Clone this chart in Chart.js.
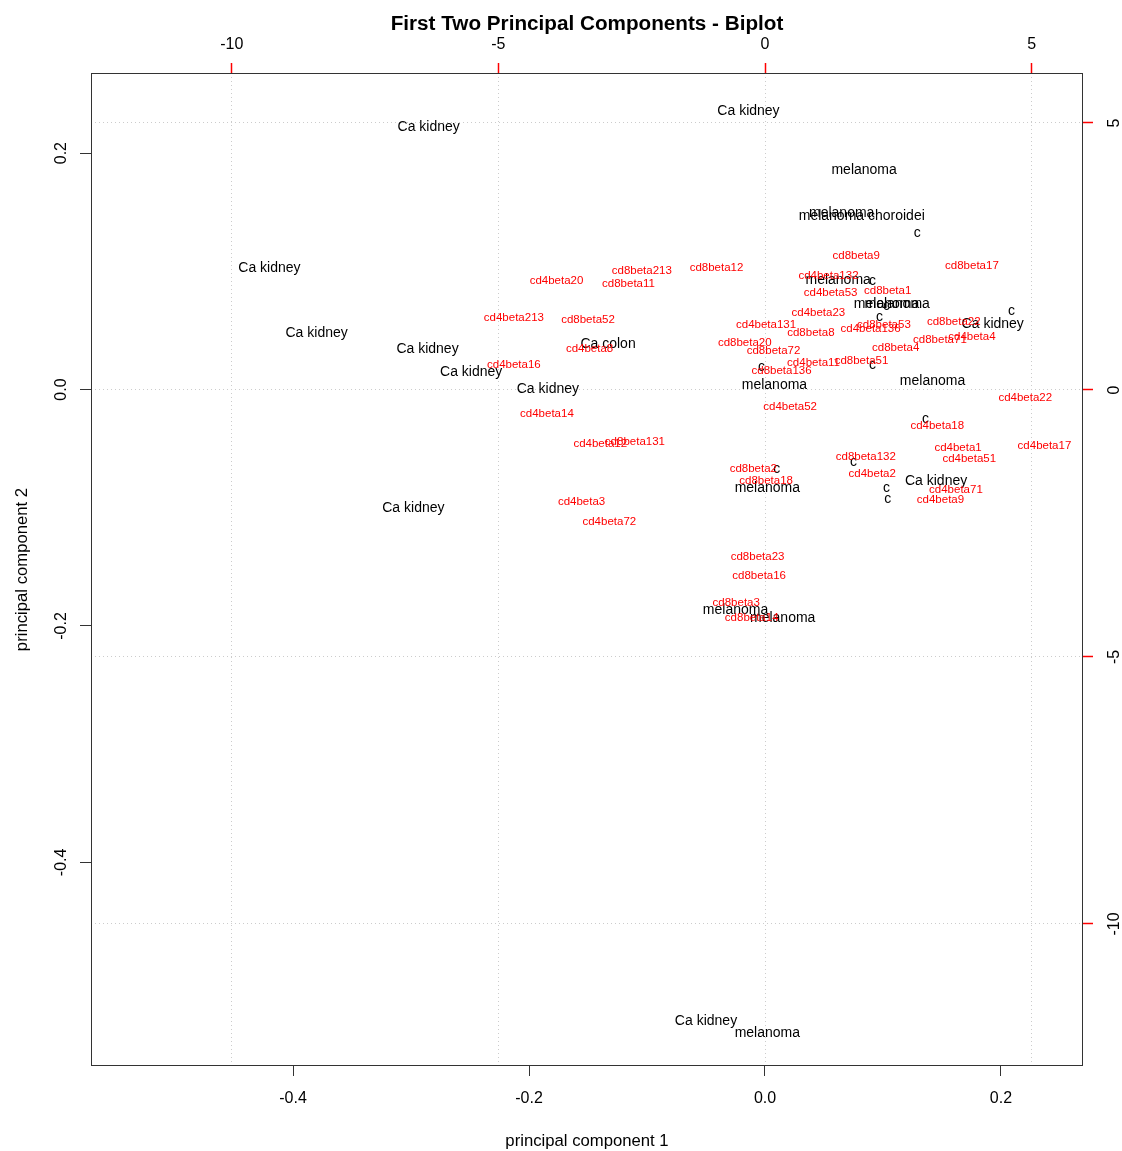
<!DOCTYPE html>
<html>
<head>
<meta charset="utf-8">
<title>First Two Principal Components - Biplot</title>
<script src="https://cdn.jsdelivr.net/npm/chart.js@4.4.1/dist/chart.umd.min.js"></script>
<style>
  html, body { margin: 0; padding: 0; background: #fff; }
  #chart { display: block; }
</style>
</head>
<body>
<canvas id="chart" width="1122" height="1151"></canvas>
<script>
// observations (black labels, bottom/left axes)
const obsNames = [
  "Ca kidney", "Ca kidney", "melanoma", "melanoma", "melanoma choroidei", "c",
  "melanoma", "c", "melanoma", "melanoma", "c", "c", "c", "Ca kidney", "c", "c",
  "melanoma", "melanoma", "Ca colon", "Ca kidney", "Ca kidney", "Ca kidney",
  "Ca kidney", "Ca kidney", "Ca kidney", "c", "c", "c", "melanoma", "Ca kidney",
  "c", "c", "melanoma", "melanoma", "Ca kidney", "melanoma"
];
const obsX = [
  -0.014, -0.285, 0.084, 0.065, 0.082, 0.129,
  0.062, 0.091, 0.103, 0.112, 0.103, 0.097, 0.209, 0.193, 0.091, -0.003,
  0.008, 0.142, -0.133, -0.420, -0.380, -0.286,
  -0.249, -0.184, -0.298, 0.136, 0.075, 0.010, 0.002, 0.145,
  0.103, 0.104, -0.025, 0.015, -0.050, 0.002
];
const obsY = [
  0.237, 0.224, 0.187, 0.151, 0.148, 0.134,
  0.094, 0.093, 0.074, 0.074, 0.072, 0.063, 0.068, 0.057, 0.022, 0.021,
  0.005, 0.009, 0.040, 0.104, 0.049, 0.036,
  0.016, 0.002, -0.099, -0.023, -0.060, -0.066, -0.082, -0.076,
  -0.082, -0.091, -0.185, -0.192, -0.533, -0.543
];

// variables (red labels, top/right axes)
const varNames = [
  "cd8beta213", "cd8beta12", "cd4beta20", "cd8beta11", "cd4beta213", "cd8beta52",
  "cd4beta8", "cd4beta16", "cd4beta14", "cd4beta12", "cd8beta131", "cd4beta131",
  "cd8beta20", "cd8beta72", "cd8beta9", "cd8beta17", "cd4beta132", "cd4beta53",
  "cd8beta1", "cd4beta23", "cd8beta53", "cd4beta136", "cd8beta8", "cd8beta22",
  "cd8beta71", "cd4beta4", "cd8beta4", "cd8beta51", "cd4beta11", "cd8beta136",
  "cd4beta22", "cd4beta52", "cd4beta18", "cd4beta1", "cd4beta17", "cd4beta51",
  "cd8beta132", "cd4beta2", "cd8beta2", "cd8beta18", "cd4beta71", "cd4beta9",
  "cd4beta3", "cd4beta72", "cd8beta23", "cd8beta16", "cd8beta3", "cd8beta14"
];
const varX = [
  -2.31, -0.91, -3.91, -2.56, -4.71, -3.32,
  -3.29, -4.71, -4.09, -3.09, -2.44, 0.02,
  -0.38, 0.16, 1.71, 3.88, 1.19, 1.23,
  2.30, 1.00, 2.23, 1.98, 0.86, 3.54,
  3.28, 3.88, 2.45, 1.81, 0.91, 0.31,
  4.88, 0.47, 3.23, 3.62, 5.24, 3.83,
  1.89, 2.01, -0.22, 0.02, 3.58, 3.29,
  -3.44, -2.92, -0.14, -0.11, -0.54, -0.25
];
const varY = [
  2.26, 2.32, 2.07, 2.01, 1.37, 1.35,
  0.80, 0.49, -0.42, -0.98, -0.94, 1.25,
  0.92, 0.76, 2.54, 2.35, 2.17, 1.85,
  1.89, 1.47, 1.25, 1.17, 1.09, 1.31,
  0.97, 1.02, 0.81, 0.58, 0.54, 0.39,
  -0.11, -0.28, -0.64, -1.06, -1.02, -1.27,
  -1.22, -1.54, -1.45, -1.67, -1.85, -2.03,
  -2.06, -2.45, -3.10, -3.46, -3.95, -4.23
];

const pc1Ticks = [-0.4, -0.2, 0.0, 0.2];
const pc2Ticks = [-0.4, -0.2, 0.0, 0.2];
const loadXTicks = [-10, -5, 0, 5];
const loadYTicks = [-10, -5, 0, 5];

const FONT = '"Liberation Sans", Arial, sans-serif';
const DY = 2; // canvas 'middle' sits a bit high compared with R

function fixTicks(values) {
  return scale => { scale.ticks = values.map(v => ({ value: v })); };
}

const labelPlugin = {
  id: 'biplotLabels',
  beforeDatasetsDraw(chart) {
    const ctx = chart.ctx;
    const a = chart.chartArea;
    ctx.save();
    ctx.strokeStyle = '#333';
    ctx.lineWidth = 1;
    ctx.strokeRect(a.left + 0.5, a.top + 0.5, a.right - a.left - 1, a.bottom - a.top - 1);
    ctx.restore();
  },
  afterDatasetsDraw(chart) {
    const ctx = chart.ctx;
    ctx.save();
    ctx.textAlign = 'center';
    ctx.textBaseline = 'middle';

    // observation labels
    ctx.fillStyle = '#000';
    ctx.font = '14px ' + FONT;
    chart.getDatasetMeta(0).data.forEach((pt, i) => {
      ctx.fillText(obsNames[i], pt.x, pt.y + DY);
    });

    // variable labels
    ctx.fillStyle = '#ff0000';
    ctx.font = '11.5px ' + FONT;
    chart.getDatasetMeta(1).data.forEach((pt, i) => {
      ctx.fillText(varNames[i], pt.x, pt.y + 1.5);
    });
    ctx.restore();
  },
  afterDraw(chart) {
    const ctx = chart.ctx;
    const s = chart.scales;
    const a = chart.chartArea;
    ctx.save();
    ctx.fillStyle = '#000';
    ctx.textAlign = 'center';
    ctx.textBaseline = 'middle';

    // tick labels
    ctx.font = '16px ' + FONT;
    pc1Ticks.forEach(v => ctx.fillText(v.toFixed(1), s.x.getPixelForValue(v), 1097 + DY));
    loadXTicks.forEach(v => ctx.fillText(String(v), s.x2.getPixelForValue(v), 43 + DY));
    pc2Ticks.forEach(v => {
      ctx.save();
      ctx.translate(60 + DY, s.y.getPixelForValue(v));
      ctx.rotate(-Math.PI / 2);
      ctx.fillText(v.toFixed(1), 0, 0);
      ctx.restore();
    });
    loadYTicks.forEach(v => {
      ctx.save();
      ctx.translate(1113 + DY, s.y2.getPixelForValue(v));
      ctx.rotate(-Math.PI / 2);
      ctx.fillText(String(v), 0, 0);
      ctx.restore();
    });

    // axis titles
    ctx.font = '16.7px ' + FONT;
    ctx.fillText('principal component 1', (a.left + a.right) / 2, 1139 + DY);
    ctx.save();
    ctx.translate(20 + DY, (a.top + a.bottom) / 2);
    ctx.rotate(-Math.PI / 2);
    ctx.fillText('principal component 2', 0, 0);
    ctx.restore();

    // main title
    ctx.font = 'bold 20.7px ' + FONT;
    ctx.fillText('First Two Principal Components - Biplot', (a.left + a.right) / 2, 22 + DY);
    ctx.restore();
  }
};

const noLabels = { display: false };
const dotted = { display: false, dash: [1, 3] };

new Chart(document.getElementById('chart'), {
  type: 'scatter',
  data: {
    datasets: [
      {
        label: 'observations',
        xAxisID: 'x',
        yAxisID: 'y',
        data: obsX.map((x, i) => ({ x: x, y: obsY[i] })),
        pointRadius: 0
      },
      {
        label: 'variables',
        xAxisID: 'x2',
        yAxisID: 'y2',
        data: varX.map((x, i) => ({ x: x, y: varY[i] })),
        pointRadius: 0
      }
    ]
  },
  options: {
    responsive: false,
    animation: false,
    events: [],
    layout: { padding: 0 },
    plugins: {
      legend: { display: false },
      title: { display: false },
      tooltip: { enabled: false }
    },
    scales: {
      x: {
        type: 'linear', position: 'bottom',
        min: -0.5712, max: 0.2695,
        afterBuildTicks: fixTicks(pc1Ticks),
        afterFit: sc => { sc.height = 85; },
        ticks: noLabels,
        border: { display: false },
        grid: { drawOnChartArea: false, tickLength: 10, tickColor: '#333' }
      },
      y: {
        type: 'linear', position: 'left',
        min: -0.5723, max: 0.2678,
        afterBuildTicks: fixTicks(pc2Ticks),
        afterFit: sc => { sc.width = 91; },
        ticks: noLabels,
        border: { display: false },
        grid: { drawOnChartArea: false, tickLength: 11, tickColor: '#333' }
      },
      x2: {
        type: 'linear', position: 'top',
        min: -12.64, max: 5.963,
        afterBuildTicks: fixTicks(loadXTicks),
        afterFit: sc => { sc.height = 73; },
        ticks: noLabels,
        border: dotted,
        grid: { color: '#cccccc', lineWidth: 1, tickLength: 10, tickWidth: 1.5, tickColor: '#ff0000' }
      },
      y2: {
        type: 'linear', position: 'right',
        min: -12.66, max: 5.936,
        afterBuildTicks: fixTicks(loadYTicks),
        afterFit: sc => { sc.width = 39; },
        ticks: noLabels,
        border: dotted,
        grid: { color: '#cccccc', lineWidth: 1, tickLength: 10, tickWidth: 1.5, tickColor: '#ff0000' }
      }
    }
  },
  plugins: [labelPlugin]
});
</script>
</body>
</html>
